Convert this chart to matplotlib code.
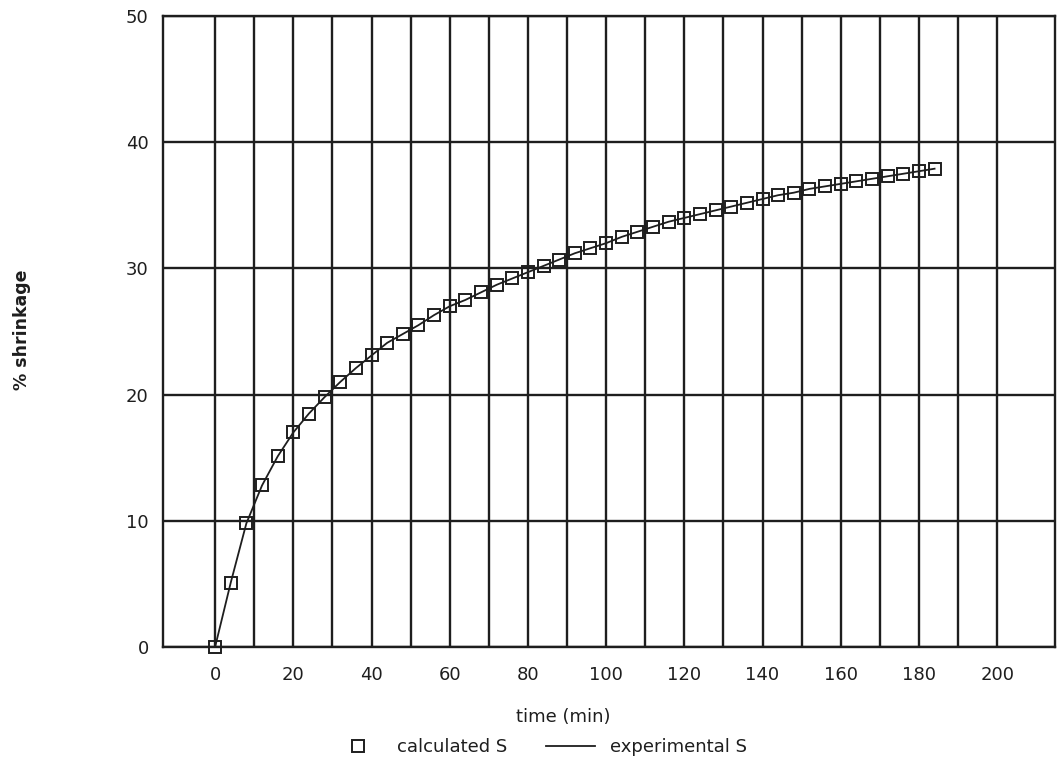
import matplotlib
matplotlib.use("Agg")
import matplotlib.pyplot as plt
from matplotlib.lines import Line2D

# data
time_min = [0, 4, 8, 12, 16, 20, 24, 28, 32, 36, 40, 44, 48, 52, 56, 60, 64, 68, 72, 76,
            80, 84, 88, 92, 96, 100, 104, 108, 112, 116, 120, 124, 128, 132, 136, 140,
            144, 148, 152, 156, 160, 164, 168, 172, 176, 180, 184]
shrinkage = [0.0, 5.1, 9.8, 12.8, 15.1, 17.0, 18.5, 19.8, 21.0, 22.1, 23.1, 24.1, 24.8,
             25.5, 26.3, 27.0, 27.5, 28.1, 28.7, 29.2, 29.7, 30.2, 30.7, 31.2, 31.6,
             32.0, 32.5, 32.9, 33.3, 33.7, 34.0, 34.3, 34.6, 34.9, 35.2, 35.5, 35.8,
             36.0, 36.3, 36.5, 36.7, 36.9, 37.1, 37.3, 37.5, 37.7, 37.9]
x_major = list(range(0, 201, 20))
x_minor = list(range(10, 191, 20))
y_ticks = [0, 10, 20, 30, 40, 50]

ink = "#1e1e1e"
plt.rcParams['font.family'] = ['DejaVu Sans']

W, H = 1057, 762
fig = plt.figure(figsize=(W / 100, H / 100), dpi=100)
ax = fig.add_axes([162.7 / W, 1 - 647 / H, (1055 - 162.7) / W, (647 - 16) / H])

ax.plot(time_min, shrinkage, '-', color=ink, lw=1.3, zorder=3)
ax.plot(time_min, shrinkage, 's', mfc='none', mec=ink, ms=8, mew=1.4, zorder=4, clip_on=False)

ax.set_xlim(-13.4, 214.8)
ax.set_ylim(0, 50)
ax.set_xticks(x_major)
ax.set_xticks(x_minor, minor=True)
ax.set_yticks(y_ticks)
ax.grid(True, which='both', color=ink, lw=1.7)
ax.set_axisbelow(True)
ax.tick_params(which='both', length=0, labelsize=13, colors=ink)
ax.tick_params(axis='x', pad=14)
ax.tick_params(axis='y', pad=10)
for s in ax.spines.values():
    s.set_color(ink)
    s.set_linewidth(1.7)

fig.text(563 / W, 1 - 717 / H, "time (min)", ha='center', va='center', fontsize=13, color=ink)
fig.text(22 / W, 1 - 330 / H, "% shrinkage", ha='center', va='center', rotation=90,
         fontsize=12.5, fontweight='bold', color=ink)

handles = [Line2D([], [], ls='none', marker='s', mfc='none', mec=ink, ms=8, mew=1.4),
           Line2D([], [], ls='-', color=ink, lw=1.3)]
fig.legend(handles, ["calculated S", "experimental S"], ncol=2, frameon=False,
           loc='center', bbox_to_anchor=(540 / W, 1 - 747 / H), fontsize=13,
           handlelength=2.7, handletextpad=0.8, columnspacing=2.2, labelcolor=ink)

fig.savefig("out.png", dpi=100, facecolor='white')
